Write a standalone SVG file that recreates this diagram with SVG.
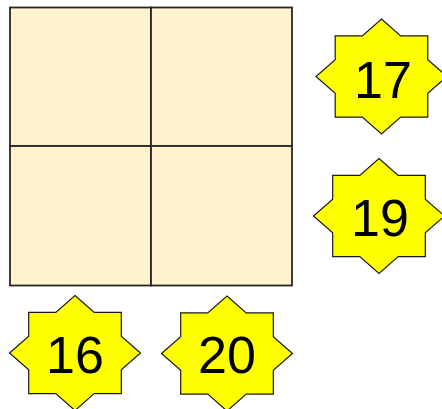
<svg xmlns="http://www.w3.org/2000/svg" xmlns:xlink="http://www.w3.org/1999/xlink" width="442" height="409" viewBox="0 0 442 409">
<style>
.cell{fill:#FFF2CC;stroke:#262626;stroke-width:1.8}
.star{fill:#FFFF00;stroke:#1a1a1a;stroke-width:1.2;stroke-linejoin:miter}
.num{font-family:"Liberation Sans",Arial,sans-serif;font-size:52px;fill:#000;text-anchor:middle}
</style>
<defs>
<path id="star8" d="M0,-57.5 L19.2,-40.6 L46.3,-40.7 L46.3,-16.8 L65.5,0 L46.3,16.8 L46.3,40.7 L19.2,40.6 L0,57.5 L-19.2,40.6 L-46.3,40.7 L-46.3,16.8 L-65.5,0 L-46.3,-16.8 L-46.3,-40.7 L-19.2,-40.6 Z"/>
</defs>
<rect width="442" height="409" fill="#fff"/>
<g id="grid">
<rect class="cell" x="10" y="7.5" width="141" height="138.5"/>
<rect class="cell" x="151" y="7.5" width="141" height="138.5"/>
<rect class="cell" x="10" y="146" width="141" height="139.5"/>
<rect class="cell" x="151" y="146" width="141" height="139.5"/>
</g>
<g id="connectors"></g>
<g id="star17">
<use href="#star8" xlink:href="#star8" class="star" transform="translate(381.5,76.5)"/>
<text class="num" x="383" y="97.7">17</text>
</g>
<g id="star19">
<use href="#star8" xlink:href="#star8" class="star" transform="translate(379,216)"/>
<text class="num" x="380" y="235.7">19</text>
</g>
<g id="star16">
<use href="#star8" xlink:href="#star8" class="star" transform="translate(75,353)"/>
<text class="num" x="75" y="372.7">16</text>
</g>
<g id="star20">
<use href="#star8" xlink:href="#star8" class="star" transform="translate(227,353.5)"/>
<text class="num" x="227" y="372.7">20</text>
</g>
</svg>
